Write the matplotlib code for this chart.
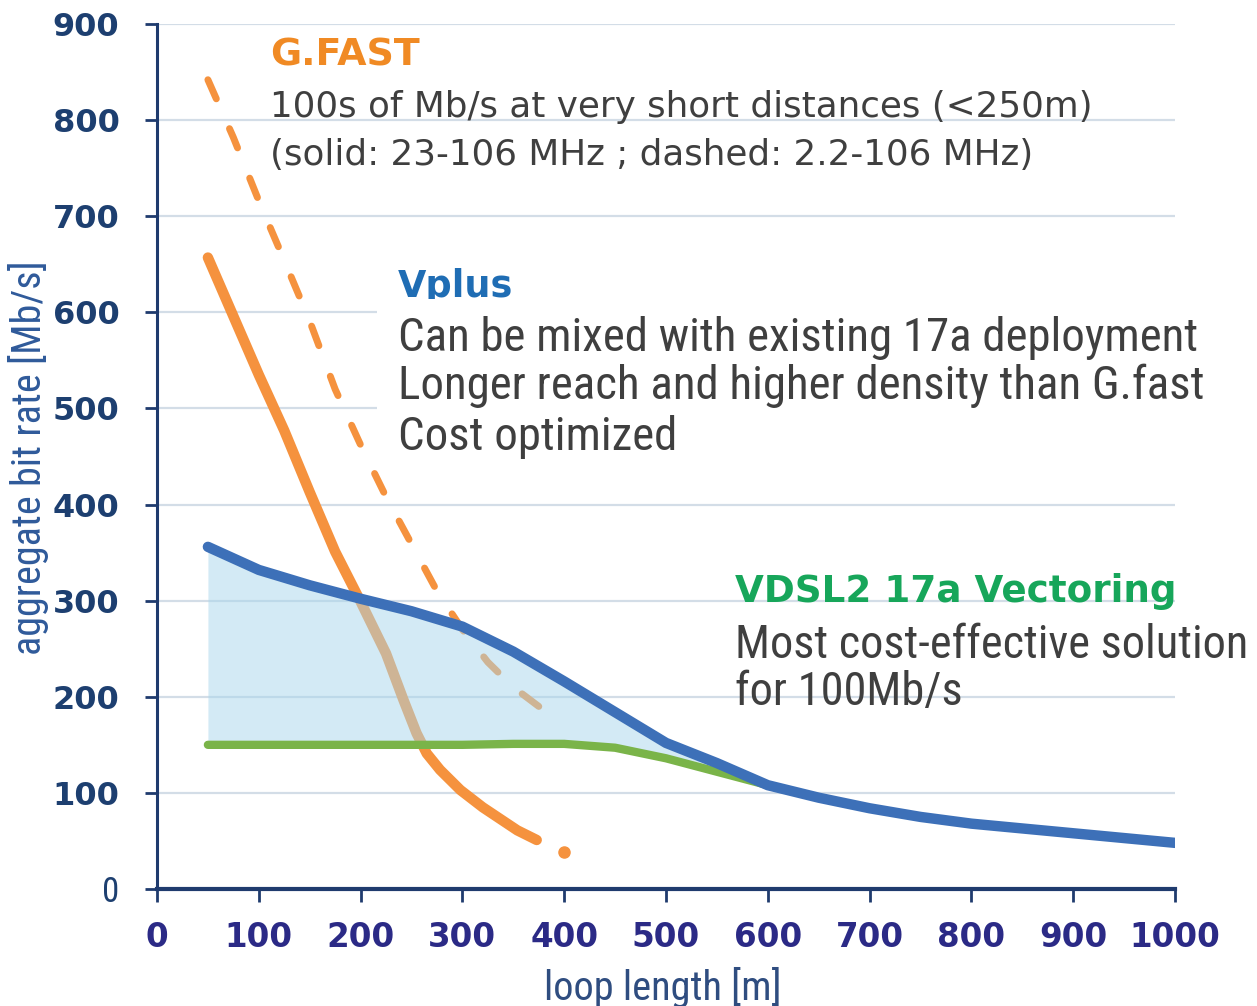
import matplotlib
matplotlib.use("Agg")
import matplotlib.pyplot as plt
from matplotlib.patches import Rectangle
from matplotlib import font_manager

# ---------------- data ----------------
vplus_x = [50, 100, 150, 200, 250, 300, 350, 400, 450, 500, 550, 600, 650, 700, 750, 800, 850, 900, 950, 1000]
vplus_y = [356, 332, 316, 302, 289, 273, 247, 216, 184, 152, 131, 108, 95, 84, 75, 68, 63, 58, 53, 48]

vdsl_x = [50, 100, 150, 200, 250, 300, 350, 400, 450, 500, 550, 600]
vdsl_y = [150, 150, 150, 150, 150, 150, 151, 151, 147, 136, 122, 108]

gfast_solid_x = [50, 100, 125, 150, 175, 200, 225, 242, 255, 265, 278, 298, 320, 354, 373]
gfast_solid_y = [657, 535, 477, 413, 351, 299, 245, 197, 162, 141, 124, 103, 85, 61, 51]
gfast_tail_x = [400]
gfast_tail_y = [38]

gfast_dash_x = [50, 75, 100, 125, 150, 175, 200, 225, 250, 275, 300, 325, 350, 375, 390]
gfast_dash_y = [842, 782, 716, 654, 591, 520, 462, 408, 359, 310, 270, 236, 210, 190, 178]

x_ticks = [0, 100, 200, 300, 400, 500, 600, 700, 800, 900, 1000]
y_ticks = [0, 100, 200, 300, 400, 500, 600, 700, 800, 900]

# ---------------- fonts ----------------
ttf = font_manager.fontManager.ttflist
cond = None
for cand in ["Ubuntu Condensed", "Roboto Condensed", "Open Sans Condensed", "Liberation Sans Narrow"]:
    if any(f.name == cand for f in ttf):
        cond = (cand, "normal")
        break
if cond is None:
    for f in ttf:
        if f.name == "DejaVu Sans" and f.stretch in ("condensed", "semi-condensed"):
            cond = ("DejaVu Sans", "condensed")
            break
if cond is None:
    cond = ("DejaVu Sans", "normal")
CF = dict(family=cond[0], stretch=cond[1])

W, H = 1257, 1006
fig = plt.figure(figsize=(W / 100, H / 100), dpi=100)
fig.patch.set_facecolor("white")
renderer = fig.canvas.get_renderer()

def fx(px):
    return px / W

def fy(py):
    return 1 - py / H

def fit_group(texts, target_px, vertical=False):
    """scale a group of texts so the widest one spans target_px"""
    ext = [t.get_window_extent(renderer) for t in texts]
    cur = max((e.height if vertical else e.width) for e in ext)
    s = target_px / cur
    for t in texts:
        t.set_fontsize(t.get_fontsize() * s)

ax = fig.add_axes([fx(157), fy(889), fx(1175) - fx(157), fy(24) - fy(889)])
ax.set_xlim(0, 1000)
ax.set_ylim(0, 900)

navy = "#1f3b6e"
for s in ["top", "right"]:
    ax.spines[s].set_visible(False)
ax.spines["left"].set_color(navy)
ax.spines["left"].set_linewidth(2.2)
ax.spines["bottom"].set_color(navy)
ax.spines["bottom"].set_linewidth(3)

ax.set_yticks(y_ticks)
ax.set_xticks(x_ticks)
ax.tick_params(axis="y", direction="out", length=9, width=2, color=navy, pad=18)
ax.tick_params(axis="x", direction="out", length=9, width=2, color=navy, pad=14)

ax.set_yticklabels([str(v) for v in y_ticks], fontsize=23, fontweight="bold",
                   color="#1d3f70", family="DejaVu Sans")
yl = ax.get_yticklabels()
yl[0].set_fontweight("normal")
yl[0].set_family(cond[0])
yl[0].set_stretch(cond[1])
yl[0].set_fontsize(25)
ax.set_xticklabels([str(v) for v in x_ticks], fontsize=23.5, color="#2b2a86",
                   fontweight="bold", family="DejaVu Sans")

ax.set_axisbelow(True)
ax.yaxis.grid(True, color="#d3dde7", linewidth=1.6)
ax.xaxis.grid(False)

# ---------------- series ----------------
ax.plot(gfast_solid_x, gfast_solid_y, color="#f5923e", lw=7.5,
        solid_capstyle="round", solid_joinstyle="round", zorder=3)
ax.plot(gfast_tail_x, gfast_tail_y, "o", color="#f5923e", ms=8, zorder=3)
ax.plot(gfast_dash_x, gfast_dash_y, color="#f5923e", lw=5,
        linestyle=(0, (3, 4.7)), dash_capstyle="round", zorder=3)
ax.fill_between(vdsl_x, vdsl_y, vplus_y[:len(vdsl_x)], color="#a9d7ec",
                alpha=0.5, lw=0, zorder=4)
ax.plot(vdsl_x, vdsl_y, color="#7ab449", lw=6, solid_capstyle="round", zorder=5)
ax.plot(vplus_x, vplus_y, color="#3d70b8", lw=7.5, solid_capstyle="round",
        solid_joinstyle="round", zorder=6)

# ---------------- annotations ----------------
tfig = fig.transFigure
def T(px, py, s, color, size, z=7, **kw):
    return ax.text(fx(px), fy(py), s, transform=tfig, color=color, fontsize=size,
                   va="center", ha="left", zorder=z, **kw)

g0 = T(270, 55, "G.FAST", "#f08a24", 26, fontweight="bold", family="DejaVu Sans")
g1 = T(270, 107, "100s of Mb/s at very short distances (<250m)", "#3f3f3f", 20, family="DejaVu Sans")
g2 = T(270, 155, "(solid: 23-106 MHz ; dashed: 2.2-106 MHz)", "#3f3f3f", 20, family="DejaVu Sans")
fit_group([g0], 150)
fit_group([g1], 822)
g2.set_fontsize(g1.get_fontsize())

v0 = T(398, 287, "Vplus", "#1f6db4", 26, z=2, fontweight="bold", family="DejaVu Sans")
fit_group([v0], 115)
ax.add_patch(Rectangle((fx(377), fy(478)), fx(1230) - fx(377), fy(299) - fy(478),
                       transform=tfig, facecolor="white", edgecolor="none",
                       clip_on=False, zorder=2.5))
vb = [T(398, 338, "Can be mixed with existing 17a deployment", "#3f3f3f", 24, **CF),
      T(398, 386, "Longer reach and higher density than G.fast", "#3f3f3f", 24, **CF),
      T(398, 437, "Cost optimized", "#3f3f3f", 24, **CF)]
fit_group(vb, 809)

d0 = T(735, 592, "VDSL2 17a Vectoring", "#17a65a", 25, fontweight="bold", family="DejaVu Sans")
fit_group([d0], 442)
db = [T(735, 645, "Most cost-effective solution", "#3f3f3f", 24, **CF),
      T(735, 692, "for 100Mb/s", "#3f3f3f", 24, **CF)]
fit_group(db, 515)

yt = fig.text(fx(28), fy(458), "aggregate bit rate [Mb/s]", rotation=90, color="#2f5a9a",
              fontsize=20, va="center", ha="center", **CF)
fit_group([yt], 393, vertical=True)
xt = fig.text(fx(663), fy(987), "loop length [m]", color="#2f4d80",
              fontsize=20, va="center", ha="center", **CF)
fit_group([xt], 237)

fig.savefig("out.png", dpi=100, facecolor="white")
